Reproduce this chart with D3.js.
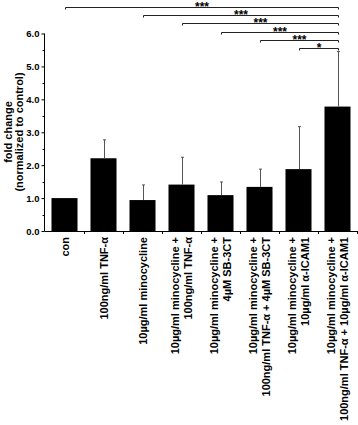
<!DOCTYPE html>
<html><head><meta charset="utf-8">
<script src="https://cdn.jsdelivr.net/npm/d3@7"></script>
<style>body{margin:0;background:#fff}svg{display:block}text{font-family:"Liberation Sans",Arial,sans-serif;font-weight:bold;fill:#000}</style>
</head><body>
<svg id="c" width="358" height="425"></svg>
<script>
const categories = [
  ["con"],
  ["100ng/ml TNF-α"],
  ["10µg/ml minocycline"],
  ["10µg/ml minocycline +", "100ng/ml TNF-α"],
  ["10µg/ml minocycline +", "4µM SB-3CT"],
  ["10µg/ml minocycline +", "100ng/ml TNF-α + 4µM SB-3CT"],
  ["10µg/ml minocycline +", "10µg/ml α-ICAM1"],
  ["10µg/ml minocycline +", "100ng/ml TNF-α + 10µg/ml α-ICAM1"]
];
const values = [1.0, 2.21, 0.94, 1.41, 1.09, 1.34, 1.88, 3.78];
const errors = [0.0, 0.56, 0.46, 0.83, 0.40, 0.54, 1.29, 1.67];
const yTicks = [0, 1, 2, 3, 4, 5, 6];
const yMinorTicks = [0.5, 1.5, 2.5, 3.5, 4.5, 5.5];
// significance comparisons: [from index, to index, label]
const sigs = [[0, 7, "***"], [2, 7, "***"], [3, 7, "***"], [4, 7, "***"], [5, 7, "***"], [6, 7, "*"]];

const svg = d3.select("#c");
const ids = categories.map((d, i) => i);
const x = d3.scaleBand().domain(ids).range([45, 357]).paddingInner(0.333).paddingOuter(0.1665);
const y = d3.scaleLinear().domain([0, 6]).range([231, 33.5]);

// bars
svg.selectAll("rect.bar").data(values).enter().append("rect")
  .attr("x", (d, i) => x(i)).attr("width", x.bandwidth())
  .attr("y", d => y(d)).attr("height", d => y(0) - y(d)).attr("fill", "#000");

// error bars
const eb = svg.append("g").attr("stroke", "#555").attr("stroke-width", 1);
values.forEach((v, i) => {
  if (!errors[i]) return;
  const cx = Math.round(x(i) + x.bandwidth() / 2) + 0.5;
  eb.append("line").attr("x1", cx).attr("x2", cx).attr("y1", y(v)).attr("y2", y(v + errors[i]));
  eb.append("line").attr("x1", cx - 1.5).attr("x2", cx + 1.5).attr("y1", y(v + errors[i])).attr("y2", y(v + errors[i]));
});

// y axis
const ya = svg.append("g").attr("transform", "translate(44.5,0)")
  .call(d3.axisLeft(y).tickValues(yTicks).tickFormat(d3.format(".1f")).tickSize(3).tickPadding(2));
ya.select(".domain").attr("d", `M0,${y(0)}V${y(6)}`).attr("stroke", "#000");
ya.selectAll(".tick line").attr("stroke", "#000");
ya.selectAll("text").attr("font-size", 9.5).attr("font-family", null).style("font-family", '"Liberation Sans",Arial,sans-serif').style("font-weight", "bold");
svg.append("g").attr("transform", "translate(44.5,0)").selectAll("line").data(yMinorTicks).enter().append("line")
  .attr("x1", -2).attr("x2", 0).attr("y1", d => Math.round(y(d)) + 0.5).attr("y2", d => Math.round(y(d)) + 0.5).attr("stroke", "#000");

// x axis
const xa = svg.append("g").attr("stroke", "#000");
xa.append("line").attr("x1", 44.5).attr("x2", 357).attr("y1", y(0) + 0.5).attr("y2", y(0) + 0.5);
xa.selectAll("line.t").data(d3.range(1, categories.length + 1)).enter().append("line")
  .attr("x1", i => Math.round(x(i - 1) + x.step() - x.step() * 0.1665) + 0.5)
  .attr("x2", i => Math.round(x(i - 1) + x.step() - x.step() * 0.1665) + 0.5)
  .attr("y1", y(0)).attr("y2", y(0) + 3);

// x labels (rotated)
const lh = 12.5;
categories.forEach((lines, i) => {
  const cx = x(i) + x.bandwidth() / 2;
  const n = lines.length;
  lines.forEach((t, j) => {
    const off = (j - (n - 1) / 2) * lh;
    svg.append("text")
      .attr("transform", `translate(${cx + off + 4},237) rotate(-90)`)
      .attr("text-anchor", "end").attr("font-size", 11).text(t);
  });
});

// y title
svg.append("text").attr("transform", `translate(12,132) rotate(-90)`).attr("text-anchor", "middle").attr("font-size", 11).text("fold change");
svg.append("text").attr("transform", `translate(23,132) rotate(-90)`).attr("text-anchor", "middle").attr("font-size", 11).text("(normalized to control)");

// significance brackets
const sg = svg.append("g");
const bracketY = [6.7, 15, 23.3, 31.7, 40, 48.3];
sigs.forEach((s, k) => {
  const x1 = Math.round(x(s[0]) + x.bandwidth() / 2) + 0.5;
  const x2 = Math.round(x(s[1]) + x.bandwidth() / 2) + 0.5;
  const by = Math.round(bracketY[k]) + 0.5;
  sg.append("path").attr("d", `M${x1},${by + 2}V${by}H${x2}V${by + 2}`).attr("fill", "none").attr("stroke", "#222").attr("stroke-width", 1);
  sg.append("text").attr("x", (x1 + x2) / 2).attr("y", by + 3.5).attr("text-anchor", "middle").attr("font-size", 12).text(s[2]);
});
</script>
</body></html>
